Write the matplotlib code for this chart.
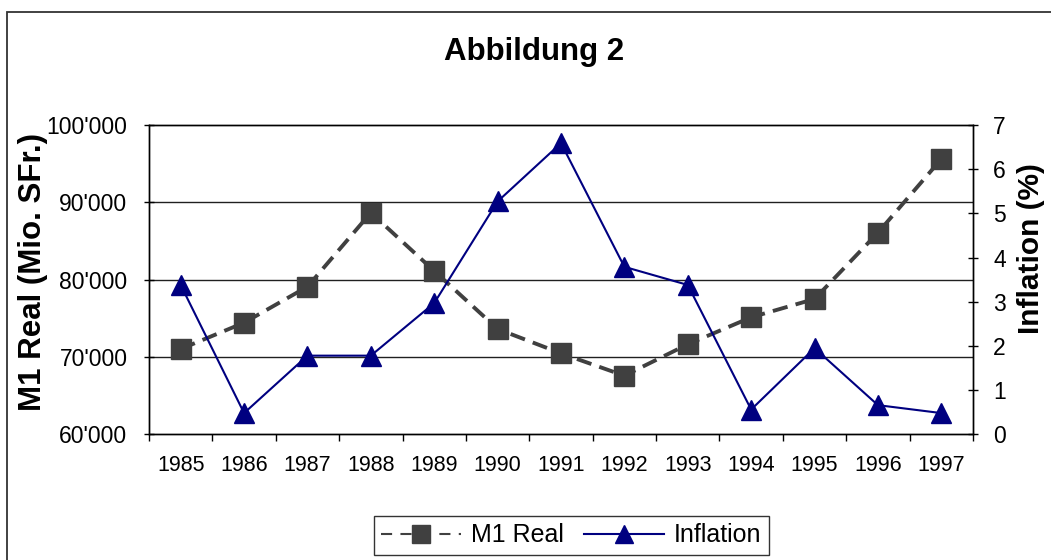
import matplotlib
matplotlib.use("Agg")
import matplotlib.pyplot as plt
from matplotlib.ticker import FuncFormatter, FixedLocator
from matplotlib.patches import Rectangle
from matplotlib.lines import Line2D

plt.rcParams['font.family'] = ['Liberation Sans', 'DejaVu Sans']
plt.rcParams['lines.scale_dashes'] = False

years = ["1985", "1986", "1987", "1988", "1989", "1990", "1991",
         "1992", "1993", "1994", "1995", "1996", "1997"]
m1_real = [71030, 74430, 79090, 88660, 81120, 73620, 70470,
           67580, 71640, 75130, 77500, 86070, 95600]
inflation = [3.38, 0.48, 1.78, 1.78, 2.97, 5.27, 6.59,
             3.79, 3.38, 0.56, 1.95, 0.66, 0.48]
left_ticks = [60000, 70000, 80000, 90000, 100000]
right_ticks = [0, 1, 2, 3, 4, 5, 6, 7]

W, H = 1051, 560
fig = plt.figure(figsize=(W / 100, H / 100), dpi=100)
fig.patch.set_facecolor('white')

# outer chart border (only left and top visible in the reference)
fig.patches.append(Rectangle((6.5 / W, -0.2), 1.2, 1.2 - 11.5 / H,
                             transform=fig.transFigure, fill=False,
                             edgecolor='#333333', linewidth=1.3))

ax = fig.add_axes([149 / W, 1 - 434.3 / H, (973 - 149) / W, (434.3 - 125) / H])
ax2 = ax.twinx()

x = list(range(len(years)))

ax.plot(x, m1_real, color='#404040', linewidth=2.8, dashes=(11, 6),
        marker='s', markersize=15, markerfacecolor='#404040',
        markeredgecolor='#404040', zorder=3)
ax2.plot(x, inflation, color='#000080', linewidth=1.5,
         marker='^', markersize=15, markerfacecolor='#000080',
         markeredgecolor='#000080', zorder=3)

ax.set_xlim(-0.5, len(years) - 0.5)
ax.set_ylim(60000, 100000)
ax2.set_ylim(0, 7)

ax.set_yticks(left_ticks)
ax.yaxis.set_major_formatter(FuncFormatter(lambda v, p: f"{int(v):,}".replace(",", "'")))
ax2.set_yticks(right_ticks)

ax.set_xticks(x)
ax.set_xticklabels(years)
ax.xaxis.set_minor_locator(FixedLocator([i - 0.5 for i in range(len(years) + 1)]))
ax.tick_params(axis='x', which='major', length=0, pad=15, labelsize=15.5)
ax.tick_params(axis='x', which='minor', length=5, width=1, direction='out', color='black')
ax.tick_params(axis='y', which='major', length=7, width=1, direction='inout', pad=12,
               labelsize=16.5, color='black')
ax2.tick_params(axis='y', which='major', length=7, width=1, direction='inout', pad=11,
                labelsize=16.5, color='black')

for a in (ax, ax2):
    for s in a.spines.values():
        s.set_color('black')
        s.set_linewidth(1.0)

for v in left_ticks[1:-1]:
    ax.axhline(v, color='#202020', linewidth=1.0, zorder=1)

fig.text(534 / W, 1 - 52 / H, "Abbildung 2", ha='center', va='center',
         fontsize=22.5, fontweight='bold')
fig.text(33.5 / W, 1 - 272 / H, "M1 Real (Mio. SFr.)", ha='center', va='center',
         rotation=90, fontsize=22.5, fontweight='bold')
fig.text(1031 / W, 1 - 249 / H, "Inflation (%)", ha='center', va='center',
         rotation=90, fontsize=21.5, fontweight='bold')

h1 = Line2D([], [], color='#404040', linewidth=1.5, dashes=(8, 6),
            marker='s', markersize=13, markerfacecolor='#404040', markeredgecolor='#404040')
h2 = Line2D([], [], color='#000080', linewidth=1.5,
            marker='^', markersize=13, markerfacecolor='#000080', markeredgecolor='#000080')
leg = fig.legend([h1, h2], ["M1 Real", "Inflation"], loc='center',
                 bbox_to_anchor=(571.5 / W, 1 - 535.5 / H), ncol=2, fontsize=18,
                 frameon=True, fancybox=False, shadow=False, handlelength=3.2,
                 handletextpad=0.4, columnspacing=0.8, borderpad=0.3,
                 borderaxespad=0, numpoints=1)
leg.get_frame().set_edgecolor('black')
leg.get_frame().set_linewidth(1.0)

fig.savefig("out.png", dpi=100)
